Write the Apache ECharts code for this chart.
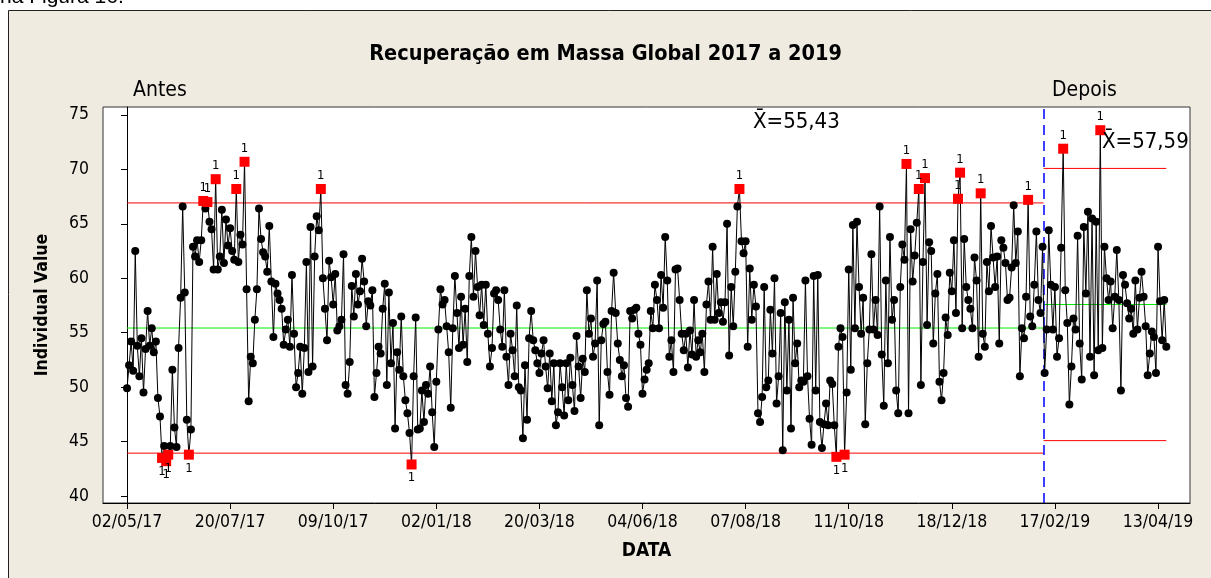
<!DOCTYPE html>
<html>
<head>
<meta charset="utf-8">
<script src="https://cdn.jsdelivr.net/npm/echarts@6/dist/echarts.min.js"></script>
<style>
html, body { margin: 0; padding: 0; background: #fff; }
#main { width: 1211px; height: 578px; }
</style>
</head>
<body>
<div id="main"></div>
<script>
// rotulos do eixo X (um a cada 50 observacoes)
var dateLabels = ['02/05/17', '20/07/17', '09/10/17', '02/01/18', '20/03/18', '04/06/18',
                  '07/08/18', '11/10/18', '18/12/18', '17/02/19', '13/04/19'];
var tickStep = 50;
var yTicks = [40, 45, 50, 55, 60, 65, 70, 75];

// valores individuais - etapa "Antes"
var antes = [
  49.9, 52.0, 54.2, 51.5, 62.5, 53.8, 51.0, 54.5, 49.5, 53.5,
  57.0, 53.8, 55.4, 53.2, 54.2, 49.0, 47.3, 43.5, 44.6, 43.2,
  43.8, 44.6, 51.6, 46.3, 44.5, 53.6, 58.2, 66.6, 58.7, 47.0,
  43.8, 46.1, 62.9, 62.0, 63.5,
  61.5, 63.5, 67.1, 66.4, 67.0, 65.2, 64.5, 60.8, 69.1, 60.8,
  62.0, 66.3, 61.4, 65.4, 63.0, 64.6, 62.5, 61.7, 68.2, 61.5,
  64.0, 63.1, 70.7, 59.0, 48.7, 52.8, 52.2, 56.2, 59.0, 66.4,
  63.6, 62.4, 62.0, 60.6, 64.8, 59.7, 54.6, 59.5, 58.6, 58.0,
  57.2, 53.9, 55.3, 56.2, 53.7, 60.3, 54.9, 50.0,
  51.3, 53.7, 49.4, 53.6, 61.5, 51.4, 64.7, 51.9, 62.0, 65.7,
  64.4, 68.2, 60.0, 57.2, 54.3, 61.6, 60.1, 57.6, 60.4, 55.2,
  55.6, 56.2, 62.2, 50.2, 49.4, 52.3, 59.3, 56.5, 60.4, 57.6,
  58.8, 61.8, 59.7, 55.6, 57.9, 57.5, 58.9, 49.1, 51.3, 53.7,
  53.1, 57.2, 59.5, 50.2,
  58.7, 52.2, 55.9, 46.2, 53.2, 51.6, 56.5, 51.0, 48.8, 47.6,
  45.8, 42.9, 51.0, 56.4, 46.1, 46.2, 49.7, 46.8, 50.2, 49.4,
  51.9, 47.7, 44.5, 50.5, 55.3, 59.0, 57.6, 58.0, 55.6, 53.2,
  48.1, 55.4, 60.2, 56.8, 53.6, 58.3, 53.9, 57.2, 52.3, 60.2,
  63.8, 58.3, 62.5, 59.2, 56.6, 59.4, 55.7,
  59.4, 54.9, 51.9, 53.6, 58.6, 58.9, 58.0, 55.3, 53.7, 58.9,
  52.8, 50.2, 54.9, 53.4, 51.0, 57.5, 50.0, 49.7, 45.3, 52.0,
  47.0, 54.5, 57.0, 54.3, 53.4, 52.2, 51.3, 53.1, 54.3, 51.9,
  49.9, 53.1, 48.7, 52.2, 46.5, 47.7, 52.2, 50.0, 47.4, 52.2,
  48.8, 52.7, 50.2, 47.8, 54.7, 51.9,
  49.0, 52.6, 51.4, 58.9, 54.9, 56.3, 52.8, 54.0, 59.8, 46.5,
  54.3, 55.8, 56.0, 51.4, 49.3, 57.0, 60.5, 56.8, 54.0, 52.5,
  51.0, 52.0, 49.0, 48.2, 57.0, 56.3, 57.1, 57.3, 54.9, 53.9,
  49.4, 50.7, 51.6, 52.2, 57.0, 55.4, 59.4, 58.0, 55.4, 60.3,
  57.3, 63.8, 59.8, 52.8, 54.3, 51.4, 60.8,
  60.9, 58.0, 54.9, 53.4, 54.9, 51.8, 55.2, 53.0, 58.0, 52.8,
  54.3, 53.2, 54.9, 51.4, 57.6, 59.7, 56.2, 62.9, 56.2, 60.4,
  56.8, 57.8, 56.0, 57.8, 65.0, 52.9, 59.2, 55.6, 60.6, 66.6,
  68.2, 63.4, 62.3, 63.4, 53.7, 60.9, 56.2, 59.4, 57.4, 47.6,
  46.8, 49.1, 59.2, 50.0, 50.6, 57.1,
  53.1, 60.0, 48.5, 51.0, 56.8, 44.2, 57.8, 49.7, 56.2, 46.2,
  58.2, 52.2, 54.0, 50.0, 50.6, 50.5, 59.8, 51.0, 47.1, 44.7,
  60.2, 49.7, 60.3, 46.8, 44.4, 46.6, 48.5, 46.5, 50.6, 50.3,
  46.5, 43.6, 53.7, 55.4, 54.6, 43.8, 49.5, 60.8, 51.6, 64.9,
  55.4, 65.2, 59.2, 54.9, 58.2, 46.6,
  52.2, 55.3, 62.2, 55.3, 58.0, 54.8, 66.6, 53.0, 48.3, 59.8,
  52.2, 63.8, 56.2, 58.0, 49.7, 47.6, 59.2, 63.1, 61.7, 70.5,
  47.6, 64.5, 59.7, 62.1, 65.1, 68.2, 50.2, 61.5, 69.2, 55.7,
  63.3, 62.5, 54.0, 58.6, 60.4, 50.5, 48.8, 51.3, 56.4, 54.8,
  60.5, 58.8, 63.5, 56.8, 67.3, 69.7,
  55.4, 63.6, 59.2, 58.0, 57.2, 55.4, 61.9, 59.8, 52.8, 67.8,
  54.9, 53.7, 61.5, 58.8, 64.8, 61.9, 59.2, 62.0, 54.0, 63.5,
  62.8, 61.4, 58.0, 58.2, 61.0, 66.7, 61.4, 64.3, 51.0, 55.4,
  54.5, 58.3, 67.2, 56.5, 55.6, 59.4, 64.3, 58.0, 56.8, 62.9
];

// valores individuais - etapa "Depois"
var depois = [
  51.3, 55.3, 64.4, 59.4, 55.3, 59.2, 52.8, 54.5, 62.8, 71.9,
  58.9, 55.9, 48.4, 51.9, 56.3, 55.3, 63.9, 54.0, 50.7, 64.7,
  58.6, 66.1, 52.8, 65.5, 51.1, 65.2, 53.4, 73.6, 53.6, 62.9,
  60.0, 58.0, 59.7, 55.4, 58.3, 62.6, 58.0, 49.7, 60.3, 59.4,
  57.7, 56.3, 57.2, 54.9, 59.8, 55.3, 58.2, 60.6, 58.3, 55.6,
  51.1, 53.1, 55.1, 54.6, 51.3, 62.9, 57.9, 54.3, 58.0, 53.7
];

// [LIC, media, LSC] de cada etapa
var antesLimits = [43.94, 55.43, 66.92];
var depoisLimits = [45.09, 57.59, 70.09];

var FONT = "'DejaVu Sans Condensed', 'DejaVu Sans', sans-serif";

var values = antes.concat(depois);
var stageEnd = antes.length - 0.5;
var lastIdx = values.length - 1;

var tickIdx = dateLabels.map(function (d, k) { return k * tickStep; });

var points = values.map(function (v, i) {
  var lim = i < antes.length ? antesLimits : depoisLimits;
  var item = { value: [i, v] };
  if (v > lim[2] || v < lim[0]) {
    // teste 1: ponto fora dos limites
    item.symbol = 'rect';
    item.symbolSize = 10;
    item.itemStyle = { color: '#ff0000' };
    item.label = {
      show: true, formatter: '1', position: v > lim[2] ? 'top' : 'bottom',
      distance: 2, color: '#000', fontSize: 13, fontFamily: FONT
    };
  }
  return item;
});

function hline(x0, x1, y, color) {
  return {
    type: 'line', data: [[x0, y], [x1, y]], symbol: 'none', silent: true, z: 3,
    lineStyle: { color: color, width: 1 }, animation: false
  };
}

function meanText(v) {
  return 'X\u0304=' + String(v).replace('.', ',');
}

var myChart = echarts.init(document.getElementById('main'));

var option = {
  backgroundColor: '#efebe1',
  animation: false,
  title: {
    text: 'Recuperação em Massa Global 2017 a 2019',
    left: 'center', top: 38,
    textStyle: { fontSize: 21.5, fontWeight: 'bold', color: '#000', fontFamily: FONT }
  },
  grid: {
    left: 103, top: 107, width: 1087, height: 396,
    show: true, backgroundColor: '#fff', borderColor: '#333', borderWidth: 1
  },
  xAxis: {
    type: 'value', min: -11.64, max: 515.5,
    splitLine: { show: false },
    axisLine: { show: true, onZero: false, lineStyle: { color: '#000' } },
    axisTick: { show: true, customValues: tickIdx, length: 6, lineStyle: { color: '#000' } },
    axisLabel: {
      customValues: tickIdx, margin: 10, fontSize: 17.5, color: '#000', fontFamily: FONT,
      formatter: function (v) { return dateLabels[Math.round(v / tickStep)]; }
    },
    name: 'DATA', nameLocation: 'middle', nameGap: 39,
    nameTextStyle: { fontSize: 19, fontWeight: 'bold', color: '#000', fontFamily: FONT }
  },
  yAxis: {
    type: 'value', min: 39.36, max: 75.73,
    splitLine: { show: false },
    axisLine: { show: true, lineStyle: { color: '#000' } },
    axisTick: { show: true, customValues: yTicks, length: 6, lineStyle: { color: '#000' } },
    axisLabel: { customValues: yTicks, margin: 14, fontSize: 17.5, color: '#000', fontFamily: FONT },
    name: 'Individual Value', nameLocation: 'middle', nameGap: 52,
    nameTextStyle: { fontSize: 17.5, fontWeight: 'bold', color: '#000', fontFamily: FONT }
  },
  graphic: [
    { type: 'rect', shape: { x: 0, y: 0, width: 1211, height: 10 }, style: { fill: '#fff' }, z: 100 },
    { type: 'rect', shape: { x: 0, y: 0, width: 8, height: 578 }, style: { fill: '#fff' }, z: 100 },
    { type: 'polyline', shape: { points: [[8.5, 578], [8.5, 10.5], [1211, 10.5]] },
      style: { stroke: '#222', lineWidth: 1, fill: null }, z: 101 },
    { type: 'text', left: 0, top: -13, z: 102,
      style: { text: 'na Figura 16.', fill: '#000', font: "21px 'Liberation Sans', Arial, sans-serif" } },
    { type: 'text', left: 133, top: 80,
      style: { text: 'Antes', fontSize: 21, fill: '#000', fontFamily: FONT } },
    { type: 'text', left: 1052, top: 80,
      style: { text: 'Depois', fontSize: 21, fill: '#000', fontFamily: FONT } },
    { type: 'text', left: 753, top: 111, z: 50,
      style: { text: meanText(antesLimits[1]), fontSize: 22, fill: '#000', fontFamily: FONT } },
    { type: 'text', left: 1102, top: 131, z: 50,
      style: { text: meanText(depoisLimits[1]), fontSize: 22, fill: '#000', fontFamily: FONT } }
  ],
  series: [
    hline(0, stageEnd, antesLimits[2], '#ff0000'),
    hline(0, stageEnd, antesLimits[0], '#ff0000'),
    hline(0, stageEnd, antesLimits[1], '#00ee00'),
    hline(stageEnd, lastIdx, depoisLimits[2], '#ff0000'),
    hline(stageEnd, lastIdx, depoisLimits[0], '#ff0000'),
    hline(stageEnd, lastIdx, depoisLimits[1], '#00ee00'),
    {
      type: 'line',
      data: points,
      symbol: 'circle',
      symbolSize: 8,
      showAllSymbol: true,
      itemStyle: { color: '#000' },
      lineStyle: { color: '#000', width: 1 },
      emphasis: { disabled: true },
      z: 5,
      animation: false,
      markLine: {
        silent: true, symbol: 'none', label: { show: false },
        lineStyle: { color: '#0000ff', type: [10, 6], width: 1.5 },
        data: [{ xAxis: stageEnd }]
      }
    }
  ]
};

myChart.setOption(option);
</script>
</body>
</html>
